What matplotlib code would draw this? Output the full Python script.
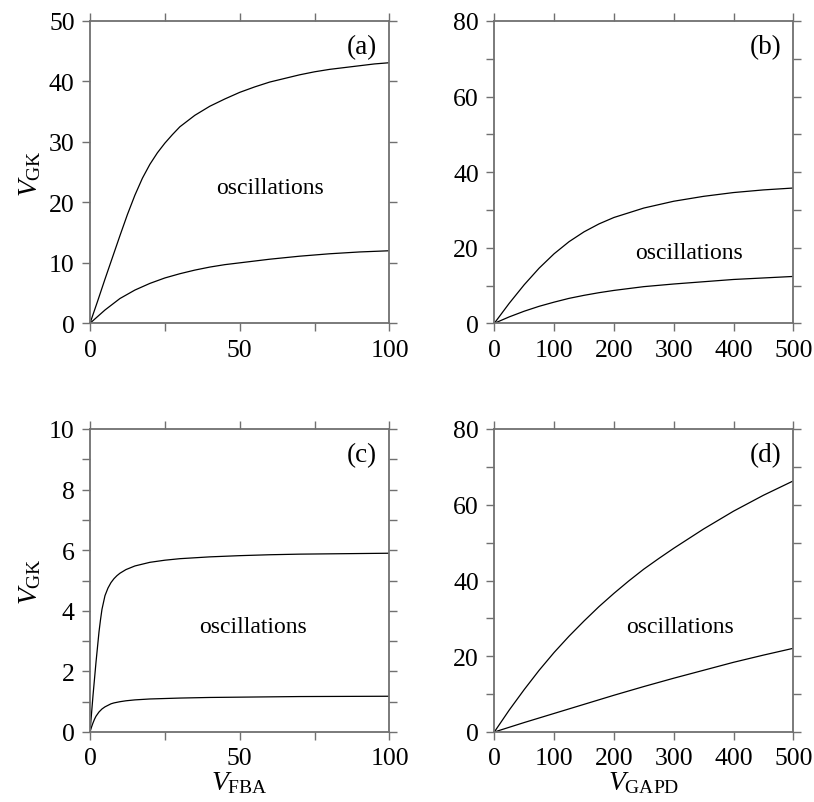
import matplotlib
matplotlib.use("Agg")
import matplotlib.pyplot as plt
from matplotlib.ticker import MultipleLocator

plt.rcParams['font.family'] = ['Liberation Serif', 'DejaVu Serif']
plt.rcParams['mathtext.fontset'] = 'custom'
plt.rcParams['mathtext.rm'] = 'Liberation Serif'
plt.rcParams['mathtext.it'] = 'Liberation Serif:italic'

# (a) V_GK vs V_FBA
a_x_up = [0, 2.5, 5, 7.5, 10, 12.5, 15, 17.5, 20, 22.5, 25, 27.5, 30, 35, 40,
          45, 50, 55, 60, 65, 70, 75, 80, 85, 90, 95, 100]
a_y_up = [0, 3.6, 7.3, 10.9, 14.5, 18.0, 21.2, 24.0, 26.3, 28.2, 29.8, 31.2, 32.5,
          34.4, 35.9, 37.1, 38.2, 39.1, 39.9, 40.5, 41.1, 41.6, 42.0, 42.3, 42.6, 42.9, 43.1]
a_x_lo = [0, 5, 10, 15, 20, 25, 30, 35, 40, 45, 50, 60, 70, 80, 90, 100]
a_y_lo = [0, 2.2, 4.1, 5.5, 6.6, 7.5, 8.2, 8.8, 9.3, 9.7, 10.0, 10.6, 11.1, 11.5, 11.8, 12.0]

# (b) V_GK vs V_GAPD
b_x = [0, 25, 50, 75, 100, 125, 150, 175, 200, 250, 300, 350, 400, 450, 500]
b_y_up = [0, 5.3, 10.2, 14.6, 18.4, 21.6, 24.2, 26.3, 28.0, 30.5, 32.3, 33.6, 34.6, 35.3, 35.8]
b_y_lo = [0, 1.7, 3.2, 4.5, 5.6, 6.6, 7.4, 8.1, 8.7, 9.7, 10.4, 11.0, 11.6, 12.0, 12.4]

# (c) V_GK vs V_FBA
c_x_up = [0, 0.5, 1, 1.5, 2, 2.5, 3, 3.5, 4, 5, 6, 7, 8, 9, 10, 12, 15, 20, 25,
          30, 40, 50, 60, 70, 80, 90, 100]
c_y_up = [0, 0.6, 1.2, 1.75, 2.3, 2.8, 3.3, 3.7, 4.05, 4.5, 4.75, 4.93, 5.06, 5.16,
          5.24, 5.36, 5.48, 5.6, 5.67, 5.72, 5.78, 5.82, 5.85, 5.87, 5.88, 5.89, 5.9]
c_x_lo = [0, 0.5, 1, 1.5, 2, 3, 4, 5, 6, 7, 8, 10, 12, 15, 20, 30, 40, 50, 70, 100]
c_y_lo = [0, 0.16, 0.3, 0.42, 0.52, 0.66, 0.76, 0.83, 0.88, 0.93, 0.96, 1.0, 1.03,
          1.06, 1.09, 1.12, 1.14, 1.15, 1.17, 1.18]

# (d) V_GK vs V_GAPD
d_x_up = [0, 25, 50, 75, 100, 125, 150, 175, 200, 225, 250, 275, 300, 350, 400, 450, 500]
d_y_up = [0, 5.8, 11.2, 16.3, 21.0, 25.3, 29.3, 33.1, 36.6, 39.9, 43.0, 45.8, 48.5,
          53.6, 58.3, 62.5, 66.3]
d_x_lo = [0, 50, 100, 150, 200, 250, 300, 350, 400, 450, 500]
d_y_lo = [0, 2.5, 4.9, 7.3, 9.7, 12.0, 14.2, 16.3, 18.4, 20.3, 22.1]

fig = plt.figure(figsize=(8.14, 8.03), dpi=100)
W, H = 814, 803


def make_ax(left, top, right, bottom):
    return fig.add_axes([left / W, 1 - bottom / H, (right - left) / W, (bottom - top) / H])


axa = make_ax(90, 22, 389.5, 324.3)
axb = make_ax(494.3, 22, 793.3, 324.3)
axc = make_ax(90, 430, 389.5, 733)
axd = make_ax(494.3, 430, 793.3, 733)

panels = [
    (axa, [(a_x_up, a_y_up), (a_x_lo, a_y_lo)], (0, 100, 50, 25), (0, 50, 10, None), "(a)", (0.60, 0.45)),
    (axb, [(b_x, b_y_up), (b_x, b_y_lo)], (0, 500, 100, None), (0, 80, 20, 10), "(b)", (0.65, 0.235)),
    (axc, [(c_x_up, c_y_up), (c_x_lo, c_y_lo)], (0, 100, 50, 25), (0, 10, 2, 1), "(c)", (0.545, 0.347)),
    (axd, [(d_x_up, d_y_up), (d_x_lo, d_y_lo)], (0, 500, 100, None), (0, 80, 20, 10), "(d)", (0.62, 0.347)),
]

gray = '#707070'
for ax, curves, xs, ys, tag, opos in panels:
    for x, y in curves:
        ax.plot(x, y, color='k', lw=0.9)
    ax.set_xlim(xs[0], xs[1])
    ax.set_ylim(ys[0], ys[1])
    ax.xaxis.set_major_locator(MultipleLocator(xs[2]))
    ax.yaxis.set_major_locator(MultipleLocator(ys[2]))
    if xs[3]:
        ax.xaxis.set_minor_locator(MultipleLocator(xs[3]))
    if ys[3]:
        ax.yaxis.set_minor_locator(MultipleLocator(ys[3]))
    for sp in ax.spines.values():
        sp.set_color(gray)
        sp.set_linewidth(1.3)
    ax.tick_params(which='both', direction='out', top=True, right=True,
                   length=6, width=1.0, color=gray, labelsize=18.5, pad=5)
    ax.text(0.907, 0.915, tag, transform=ax.transAxes, fontsize=19.5,
            ha='center', va='center')
    ax.text(opos[0], opos[1], "oscillations", transform=ax.transAxes,
            fontsize=17, ha='center', va='center')

axa.set_ylabel(r'$V_{\rm GK}$', fontsize=20, labelpad=4)
axc.set_ylabel(r'$V_{\rm GK}$', fontsize=20, labelpad=4)
axc.set_xlabel(r'$V_{\rm FBA}$', fontsize=20, labelpad=0)
axd.set_xlabel(r'$V_{\rm GAPD}$', fontsize=20, labelpad=0)

fig.savefig("out.png", dpi=100)
